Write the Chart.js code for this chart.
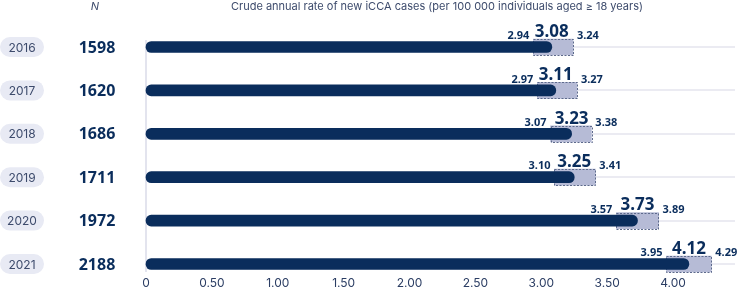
<!DOCTYPE html>
<html>
<head>
<meta charset="utf-8">
<script src="https://cdn.jsdelivr.net/npm/chart.js@4/dist/chart.umd.min.js"></script>
<style>
  html, body { margin: 0; padding: 0; background: #fff; }
  #wrap { width: 740px; height: 291px; position: relative; }
</style>
</head>
<body>
<div id="wrap"><canvas id="chart"></canvas></div>
<script>
const years = ['2016', '2017', '2018', '2019', '2020', '2021'];
const nCases = [1598, 1620, 1686, 1711, 1972, 2188];
const rates = [3.08, 3.11, 3.23, 3.25, 3.73, 4.12];
const ciLow = [2.94, 2.97, 3.07, 3.10, 3.57, 3.95];
const ciHigh = [3.24, 3.27, 3.38, 3.41, 3.89, 4.29];
const xTicks = [0, 0.5, 1, 1.5, 2, 2.5, 3, 3.5, 4];

const NAVY = '#0a2d5c';
const TITLE = 'Crude annual rate of new iCCA cases (per 100 000 individuals aged \u2265 18 years)';

function roundRect(ctx, x, y, w, h, r) {
  ctx.beginPath();
  ctx.moveTo(x + r, y);
  ctx.arcTo(x + w, y, x + w, y + h, r);
  ctx.arcTo(x + w, y + h, x, y + h, r);
  ctx.arcTo(x, y + h, x, y, r);
  ctx.arcTo(x, y, x + w, y, r);
  ctx.closePath();
}

// left column (year pills + N), header texts, axis line
const sidePlugin = {
  id: 'side',
  beforeDatasetsDraw(chart) {
    const { ctx, chartArea, scales: { y } } = chart;
    ctx.save();
    ctx.strokeStyle = '#e3e4ee';
    ctx.lineWidth = 2;
    ctx.beginPath();
    ctx.moveTo(chartArea.left, 40);
    ctx.lineTo(chartArea.left, 272);
    ctx.stroke();

    ctx.textBaseline = 'middle';
    years.forEach((yr, i) => {
      const py = y.getPixelForValue(i);
      ctx.fillStyle = '#e8eaf4';
      roundRect(ctx, 0, py - 10, 44, 20, 10);
      ctx.fill();
      ctx.fillStyle = '#3d4b6c';
      ctx.font = '12px Inter';
      ctx.textAlign = 'center';
      ctx.fillText(yr, 22, py + 1);
      ctx.fillStyle = NAVY;
      ctx.font = 'bold 16px "Noto Sans"';
      ctx.fillText(String(nCases[i]), 97, py + 1);
    });

    ctx.fillStyle = '#3d4b6c';
    ctx.font = 'italic 11px Inter';
    ctx.textAlign = 'center';
    ctx.fillText('N', 95, 7);
    ctx.font = '11px Inter';
    ctx.fillText(TITLE, 437, 7);
    ctx.restore();
  },
  afterDatasetDraw(chart, args) {
    if (args.index !== 1) return;
    const { ctx } = chart;
    const meta = chart.getDatasetMeta(1);
    ctx.save();
    ctx.strokeStyle = '#5d6a8c';
    ctx.lineWidth = 1;
    ctx.setLineDash([2, 1.5]);
    meta.data.forEach(el => {
      const p = el.getProps(['x', 'y', 'base', 'height'], true);
      ctx.strokeRect(Math.round(p.base) + 0.5, Math.round(p.y - p.height / 2) + 0.5,
        Math.round(p.x - p.base), Math.round(p.height));
    });
    ctx.restore();
  },
  afterDatasetsDraw(chart) {
    const { ctx, scales: { x, y } } = chart;
    ctx.save();
    ctx.fillStyle = NAVY;
    ctx.textBaseline = 'middle';
    rates.forEach((v, i) => {
      const py = y.getPixelForValue(i);
      const lo = x.getPixelForValue(ciLow[i]);
      const hi = x.getPixelForValue(ciHigh[i]);
      ctx.font = 'bold 17px "Noto Sans"';
      ctx.textAlign = 'center';
      ctx.fillText(v.toFixed(2), x.getPixelForValue(v), py - 15);
      ctx.font = 'bold 11px "Noto Sans"';
      ctx.textAlign = 'right';
      ctx.fillText(ciLow[i].toFixed(2), lo - 4, py - 11);
      ctx.textAlign = 'left';
      ctx.fillText(ciHigh[i].toFixed(2), hi + 4, py - 11);
    });
    ctx.restore();
  }
};

new Chart(document.getElementById('chart'), {
  type: 'bar',
  data: {
    labels: years,
    datasets: [
      {
        label: 'rate',
        data: rates,
        backgroundColor: NAVY,
        barThickness: 11,
        borderRadius: 6,
        borderSkipped: false,
        grouped: false,
        clip: false,
      },
      {
        label: 'ci',
        data: ciLow.map((lo, i) => [lo, ciHigh[i]]),
        backgroundColor: '#b6bbd6',
        barThickness: 16,
        borderWidth: 0,
        grouped: false,
        clip: false,
      },
    ],
  },
  options: {
    indexAxis: 'y',
    responsive: true,
    maintainAspectRatio: false,
    animation: false,
    events: [],
    layout: { padding: { left: 146, top: 47, right: 5, bottom: 0 } },
    plugins: { legend: { display: false }, tooltip: { enabled: false } },
    scales: {
      x: {
        type: 'linear',
        min: 0,
        max: 4.47,
        afterBuildTicks: (scale) => { scale.ticks = xTicks.map(v => ({ value: v })); },
        afterFit: (scale) => { scale.height = 27; },
        grid: { display: false, drawTicks: false },
        border: { display: false },
        ticks: {
          padding: 12,
          color: '#2b3d63',
          font: { family: 'Inter', size: 12 },
          callback: (v) => (v === 0 ? '0' : Number(v).toFixed(2)),
          maxRotation: 0,
          autoSkip: false,
        },
      },
      y: {
        offset: false,
        grid: { offset: false, color: '#ebebf2', lineWidth: 2, drawTicks: false },
        border: { display: false },
        ticks: { display: false },
      },
    },
  },
  plugins: [sidePlugin],
});
</script>
</body>
</html>
